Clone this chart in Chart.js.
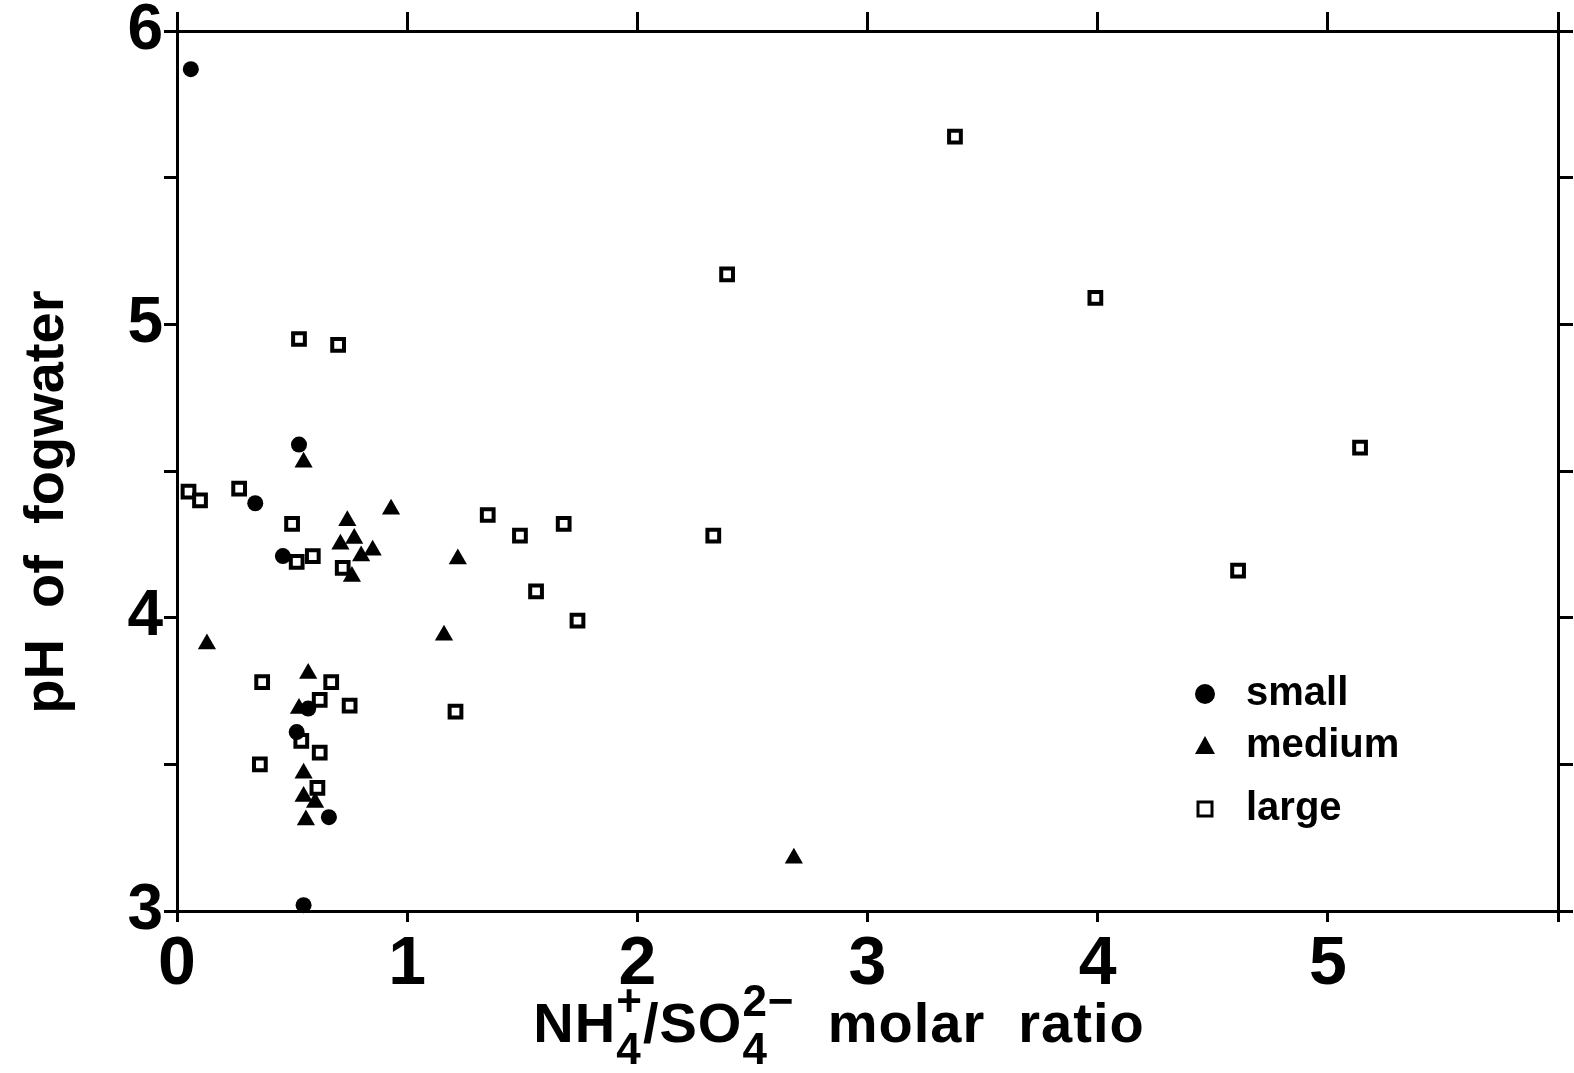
<!DOCTYPE html>
<html>
<head>
<meta charset="utf-8">
<script src="https://cdn.jsdelivr.net/npm/chart.js@4.4.1/dist/chart.umd.min.js"></script>
<style>
  html, body { margin: 0; padding: 0; background: #fff; }
  #wrap { position: relative; width: 1574px; height: 1073px; }
</style>
</head>
<body>
<div id="wrap"><canvas id="chart"></canvas></div>
<script>
// NH4+/SO4 2- molar ratio (x) and pH of fogwater (y), per droplet size class
const smallX = [0.06, 0.53, 0.34, 0.46, 0.52, 0.57, 0.66, 0.55];
const smallY = [5.87, 4.59, 4.39, 4.21, 3.61, 3.69, 3.32, 3.02];

const mediumX = [0.55, 0.13, 0.74, 0.71, 0.77, 0.80, 0.85, 0.76, 0.93, 1.22, 1.16, 0.57, 0.53, 0.55, 0.55, 0.60, 0.56, 2.68];
const mediumY = [4.53, 3.91, 4.33, 4.25, 4.27, 4.21, 4.23, 4.14, 4.37, 4.20, 3.94, 3.81, 3.69, 3.47, 3.39, 3.37, 3.31, 3.18];

const largeX = [0.05, 0.10, 0.27, 0.50, 0.52, 0.59, 0.72, 0.53, 0.70, 1.35, 1.49, 1.68, 1.56, 1.74, 2.33, 1.21,
                2.39, 3.38, 3.99, 4.61, 5.14, 0.37, 0.67, 0.62, 0.75, 0.54, 0.62, 0.36, 0.61];
const largeY = [4.43, 4.40, 4.44, 4.32, 4.19, 4.21, 4.17, 4.95, 4.93, 4.35, 4.28, 4.32, 4.09, 3.99, 4.28, 3.68,
                5.17, 5.64, 5.09, 4.16, 4.58, 3.78, 3.78, 3.72, 3.70, 3.58, 3.54, 3.50, 3.42];

const seriesLabels = ['small', 'medium', 'large'];
const xTickLabels = ['0', '1', '2', '3', '4', '5'];
const yTickLabels = ['3', '4', '5', '6'];

// x axis title, with sub/superscripts stacked like the original
const xTitleParts = [
    {t: 'NH'}, {sub: '4', sup: '+'}, {t: '/'}, {t: 'SO'}, {sub: '4', sup: '2\u2212'}, {t: '  molar  ratio'}
];

function toPoints(xs, ys) {
    return xs.map((x, i) => ({x: x, y: ys[i]}));
}

const FONT = "'Liberation Sans', Arial, Helvetica, sans-serif";

// legend drawn inside the plot, lower right
const insideLegend = {
    id: 'insideLegend',
    afterDraw(chart) {
        const ctx = chart.ctx;
        const area = chart.chartArea;
        const mx = area.right - 353;
        const tx = area.right - 312;
        const rows = [area.bottom - 217, area.bottom - 165, area.bottom - 102];
        ctx.save();
        ctx.fillStyle = '#000';
        ctx.strokeStyle = '#000';
        ctx.beginPath();
        ctx.arc(mx, rows[0], 10, 0, Math.PI * 2);
        ctx.fill();
        ctx.beginPath();
        ctx.moveTo(mx, rows[1] - 10);
        ctx.lineTo(mx + 10, rows[1] + 8);
        ctx.lineTo(mx - 10, rows[1] + 8);
        ctx.closePath();
        ctx.fill();
        ctx.lineWidth = 3;
        ctx.strokeRect(mx - 7, rows[2] - 7, 14, 14);
        ctx.font = 'bold 40px ' + FONT;
        ctx.textBaseline = 'middle';
        ctx.textAlign = 'left';
        seriesLabels.forEach((t, i) => ctx.fillText(t, tx, rows[i]));
        ctx.restore();
    }
};

// x title drawn by hand so the subscripts and superscripts can be stacked
const xTitle = {
    id: 'xTitle',
    afterDraw(chart) {
        const ctx = chart.ctx;
        const area = chart.chartArea;
        const base = chart.height - 31;
        const mainFont = 'bold 56px ' + FONT;
        const smallFont = 'bold 44px ' + FONT;
        ctx.save();
        ctx.fillStyle = '#000';
        ctx.textBaseline = 'alphabetic';
        ctx.textAlign = 'left';
        ctx.letterSpacing = '1px';
        const widths = xTitleParts.map(p => {
            if (p.t) { ctx.font = mainFont; return ctx.measureText(p.t).width; }
            ctx.font = smallFont;
            return Math.max(ctx.measureText(p.sub).width, ctx.measureText(p.sup).width);
        });
        const total = widths.reduce((a, b) => a + b, 0);
        let x = area.left + 662 - total / 2;
        xTitleParts.forEach((p, i) => {
            if (p.t) {
                ctx.font = mainFont;
                ctx.fillText(p.t, x, base);
            } else {
                ctx.font = smallFont;
                ctx.fillText(p.sub, x, base + 22);
                ctx.fillText(p.sup, x, base - 26);
            }
            x += widths[i];
        });
        ctx.restore();
    }
};

function renderChart() {
    const ctx = document.getElementById('chart').getContext('2d');
    const axisGrid = (len) => ({
        display: true,
        drawOnChartArea: false,
        drawTicks: true,
        tickLength: len,
        color: '#000',
        lineWidth: 3
    });
    const axisBorder = {display: true, color: '#000', width: 3};

    new Chart(ctx, {
        type: 'scatter',
        data: {
            datasets: [
                {
                    label: seriesLabels[0],
                    data: toPoints(smallX, smallY),
                    pointStyle: 'circle',
                    pointRadius: 8,
                    backgroundColor: '#000',
                    borderColor: '#000',
                    borderWidth: 0,
                    clip: false
                },
                {
                    label: seriesLabels[1],
                    data: toPoints(mediumX, mediumY),
                    pointStyle: 'triangle',
                    pointRadius: 10.5,
                    backgroundColor: '#000',
                    borderColor: '#000',
                    borderWidth: 0,
                    clip: false
                },
                {
                    label: seriesLabels[2],
                    data: toPoints(largeX, largeY),
                    pointStyle: 'rect',
                    pointRadius: 8.3,
                    backgroundColor: '#fff',
                    borderColor: '#000',
                    borderWidth: 4,
                    clip: false
                }
            ]
        },
        options: {
            responsive: false,
            animation: false,
            devicePixelRatio: 1,
            layout: {padding: {left: 0, right: 0, top: 0, bottom: 0}},
            plugins: {
                legend: {display: false},
                tooltip: {enabled: false}
            },
            scales: {
                x: {
                    type: 'linear',
                    position: 'bottom',
                    min: 0,
                    max: 6,
                    afterFit: (s) => { s.height = 162; },
                    ticks: {
                        stepSize: 1,
                        padding: 9,
                        color: '#000',
                        font: {family: FONT, size: 68, weight: 'bold', lineHeight: 1},
                        maxRotation: 0,
                        callback: (v) => xTickLabels.includes(String(v)) ? String(v) : ''
                    },
                    grid: axisGrid(11),
                    border: axisBorder
                },
                x2: {
                    type: 'linear',
                    position: 'top',
                    min: 0,
                    max: 6,
                    afterFit: (s) => { s.height = 31; },
                    ticks: {stepSize: 1, display: false},
                    grid: axisGrid(19),
                    border: axisBorder
                },
                y: {
                    type: 'linear',
                    position: 'left',
                    min: 3,
                    max: 6,
                    afterFit: (s) => { s.width = 177; },
                    ticks: {
                        stepSize: 0.5,
                        padding: 1,
                        color: '#000',
                        font: {family: FONT, size: 64, weight: 'bold', lineHeight: 0.9},
                        callback: (v) => yTickLabels.includes(String(v)) ? String(v) : ''
                    },
                    grid: axisGrid(13),
                    border: axisBorder,
                    title: {
                        display: true,
                        text: 'pH  of  fogwater    ',
                        color: '#000',
                        font: {family: FONT, size: 56, weight: 'bold'},
                        padding: {top: 14, bottom: 0}
                    }
                },
                y2: {
                    type: 'linear',
                    position: 'right',
                    min: 3,
                    max: 6,
                    afterFit: (s) => { s.width = 16; },
                    ticks: {stepSize: 0.5, display: false},
                    grid: axisGrid(15),
                    border: axisBorder
                }
            }
        },
        plugins: [insideLegend, xTitle]
    });
}

document.getElementById('chart').width = 1574;
document.getElementById('chart').height = 1073;
renderChart();
</script>
</body>
</html>
